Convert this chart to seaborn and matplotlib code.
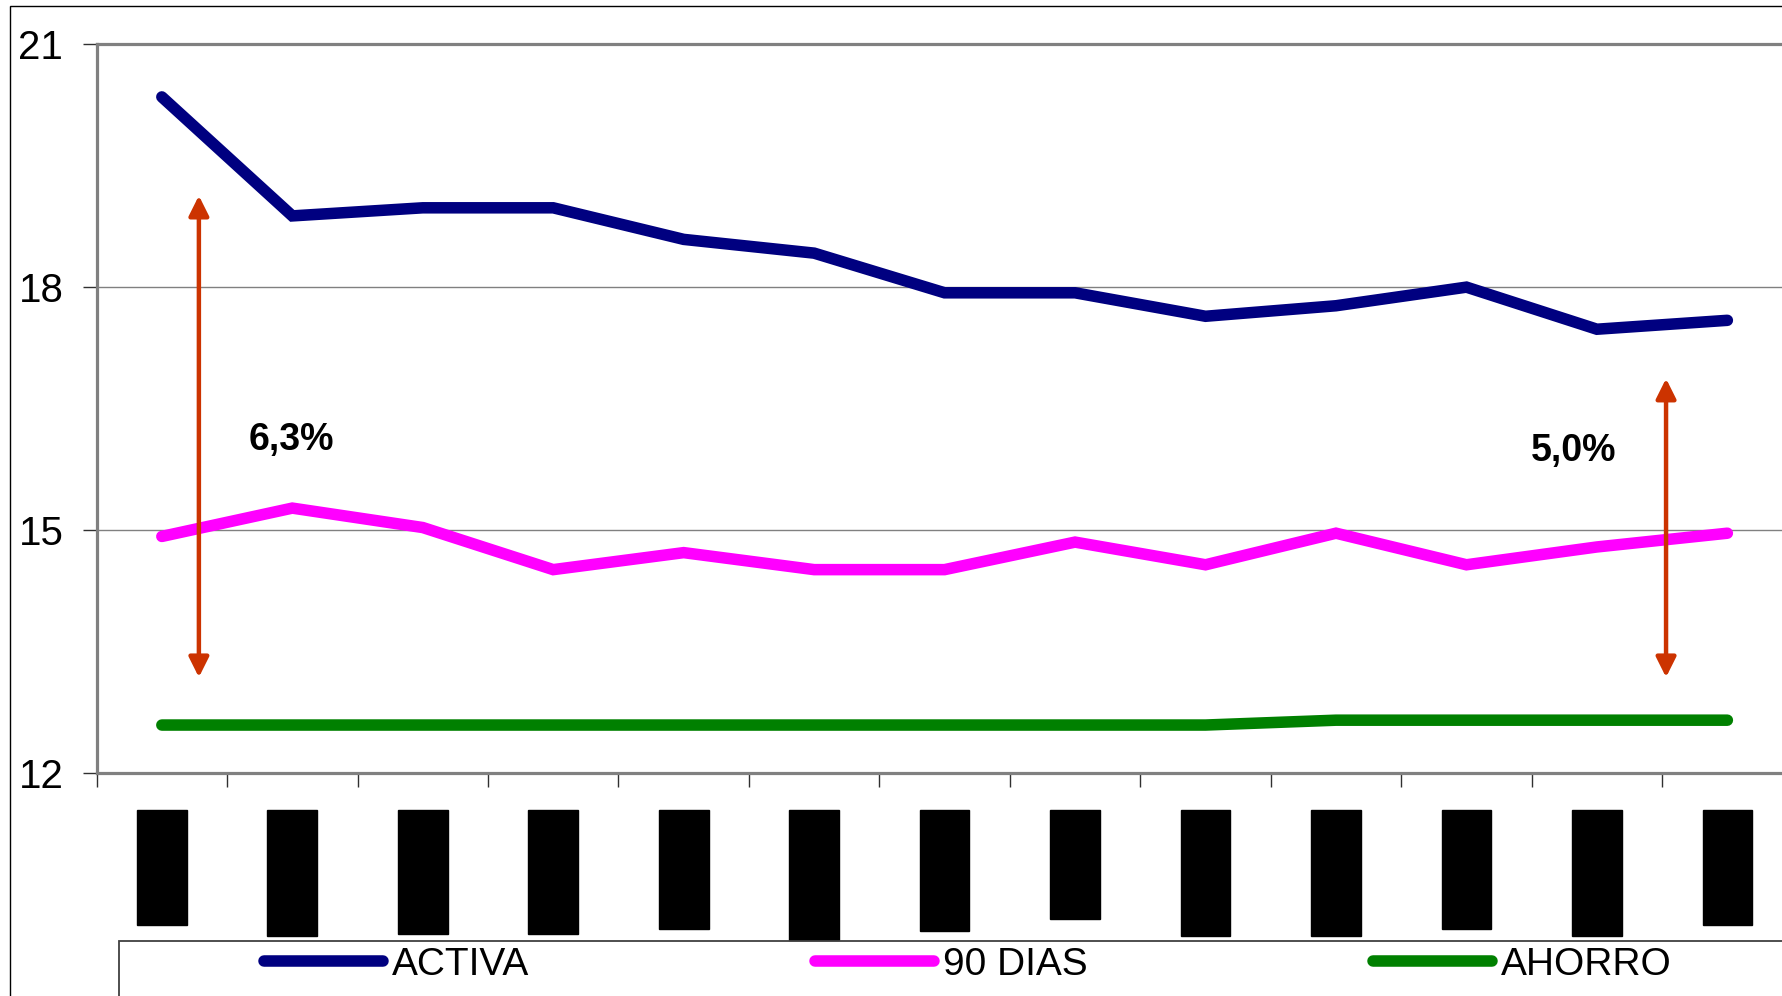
import matplotlib
matplotlib.use("Agg")
import matplotlib.pyplot as plt
import seaborn as sns
import pandas as pd
from matplotlib.patches import Rectangle
from matplotlib.lines import Line2D
from matplotlib import font_manager

# ---------------- data ----------------
periodos = ["Dic-05", "Ene-06", "Feb-06", "Mar-06", "Abr-06", "May-06", "Jun-06",
            "Jul-06", "Ago-06", "Sep-06", "Oct-06", "Nov-06", "Dic-06"]
activa = [20.35, 18.88, 18.98, 18.98, 18.59, 18.42, 17.93, 17.93, 17.64, 17.77, 18.00, 17.48, 17.59]
dias90 = [14.92, 15.27, 15.03, 14.51, 14.72, 14.51, 14.51, 14.85, 14.57, 14.96, 14.57, 14.79, 14.96]
ahorro = [12.59, 12.59, 12.59, 12.59, 12.59, 12.59, 12.59, 12.59, 12.59, 12.65, 12.65, 12.65, 12.65]
series = ["ACTIVA", "90 DIAS", "AHORRO"]
colores = ["#000080", "#FF00FF", "#008000"]
y_ticks = [12, 15, 18, 21]
spread_labels = ["6,3%", "5,0%"]

# ---------------- style ----------------
sns.set_style("white")
names = {f.name for f in font_manager.fontManager.ttflist}
base_font = "Liberation Sans" if "Liberation Sans" in names else "DejaVu Sans"
narrow_font = "Liberation Sans Narrow" if "Liberation Sans Narrow" in names else base_font
plt.rcParams["font.family"] = [base_font, "DejaVu Sans"]
plt.rcParams["text.color"] = "black"
plt.rcParams["ytick.labelcolor"] = "black"

W, H = 1782, 996
fig = plt.figure(figsize=(W / 100, H / 100), dpi=100)
fig.patch.set_facecolor("white")

ax = fig.add_axes([96.6 / W, 1 - 772.8 / H, 1696 / W, (772.8 - 44.3) / H])

df = pd.DataFrame({
    "idx": list(range(len(periodos))) * 3,
    "valor": activa + dias90 + ahorro,
    "serie": [series[0]] * len(activa) + [series[1]] * len(dias90) + [series[2]] * len(ahorro),
})
sns.lineplot(data=df, x="idx", y="valor", hue="serie", hue_order=series,
             palette=colores, linewidth=8.3, legend=False, ax=ax)
for ln in ax.lines:
    ln.set_solid_capstyle("round")
    ln.set_solid_joinstyle("miter")

ax.set_xlim(-0.5, len(periodos) - 0.5)
ax.set_ylim(12, 21)
ax.set_xlabel("")
ax.set_ylabel("")

# y axis
ax.set_yticks(y_ticks)
ax.set_yticklabels([str(v) for v in y_ticks], fontfamily=[narrow_font, "DejaVu Sans"],
                   fontsize=29, color="black")
ax.tick_params(axis="y", length=10, width=1.0, color="#303030", pad=14, left=True)
ax.yaxis.grid(True, color="#808080", linewidth=1.0)
ax.set_axisbelow(True)

# x axis: boundary ticks + black-boxed period labels
ax.set_xticks([i - 0.5 for i in range(len(periodos) + 1)])
ax.set_xticklabels([])
ax.tick_params(axis="x", which="major", length=10, width=1.0, color="#303030", bottom=True)
ax.set_xticks(list(range(len(periodos))), periodos, minor=True)
ax.tick_params(axis="x", which="minor", length=0, pad=33.5, bottom=True)
for lab in ax.get_xticklabels(minor=True):
    lab.set_rotation(90)
    lab.set_fontsize(24)
    lab.set_color("black")
    lab.set_va("top")
    lab.set_ha("center")
    lab.set_bbox(dict(boxstyle="square,pad=0.28", fc="black", ec="black"))

for side in ["top", "left", "bottom"]:
    ax.spines[side].set_visible(True)
    ax.spines[side].set_color("#808080")
    ax.spines[side].set_linewidth(2.3)
ax.spines["right"].set_visible(False)

# spread arrows and labels
arrow_kw = dict(arrowstyle="<|-|>", color="#CC3300", lw=3.2, mutation_scale=30,
                shrinkA=0, shrinkB=0)
ax.annotate("", xy=(0.284, 19.13), xytext=(0.284, 13.18), arrowprops=arrow_kw)
ax.annotate("", xy=(11.53, 16.87), xytext=(11.53, 13.18), arrowprops=arrow_kw)
ax.text(0.99, 16.11, spread_labels[0], fontsize=27, fontweight="bold", ha="center",
        va="center", color="black")
ax.text(10.82, 15.97, spread_labels[1], fontsize=27, fontweight="bold", ha="center",
        va="center", color="black")

# legend
handles = [Line2D([], [], color=c, lw=8.3, solid_capstyle="round") for c in colores]
leg = fig.legend(handles, series, ncol=3, loc="center left",
                 bbox_to_anchor=(264 / W, 1 - 965 / H), frameon=False, fontsize=28,
                 handlelength=3.06, handletextpad=0.22, columnspacing=7.36, borderpad=0,
                 borderaxespad=0)
for t in leg.get_texts():
    t.set_color("black")

# legend box and outer chart border (extend past the figure edge)
fig.patches.append(Rectangle((119 / W, -0.2), 1.5, 0.2 + 1 - 941 / H, transform=fig.transFigure,
                             fill=False, ec="#404040", lw=1.3))
fig.patches.append(Rectangle((10 / W, -0.2), 1.5, 0.2 + 1 - 6 / H, transform=fig.transFigure,
                             fill=False, ec="black", lw=1.0))

fig.savefig("out.png", dpi=100, facecolor="white")
